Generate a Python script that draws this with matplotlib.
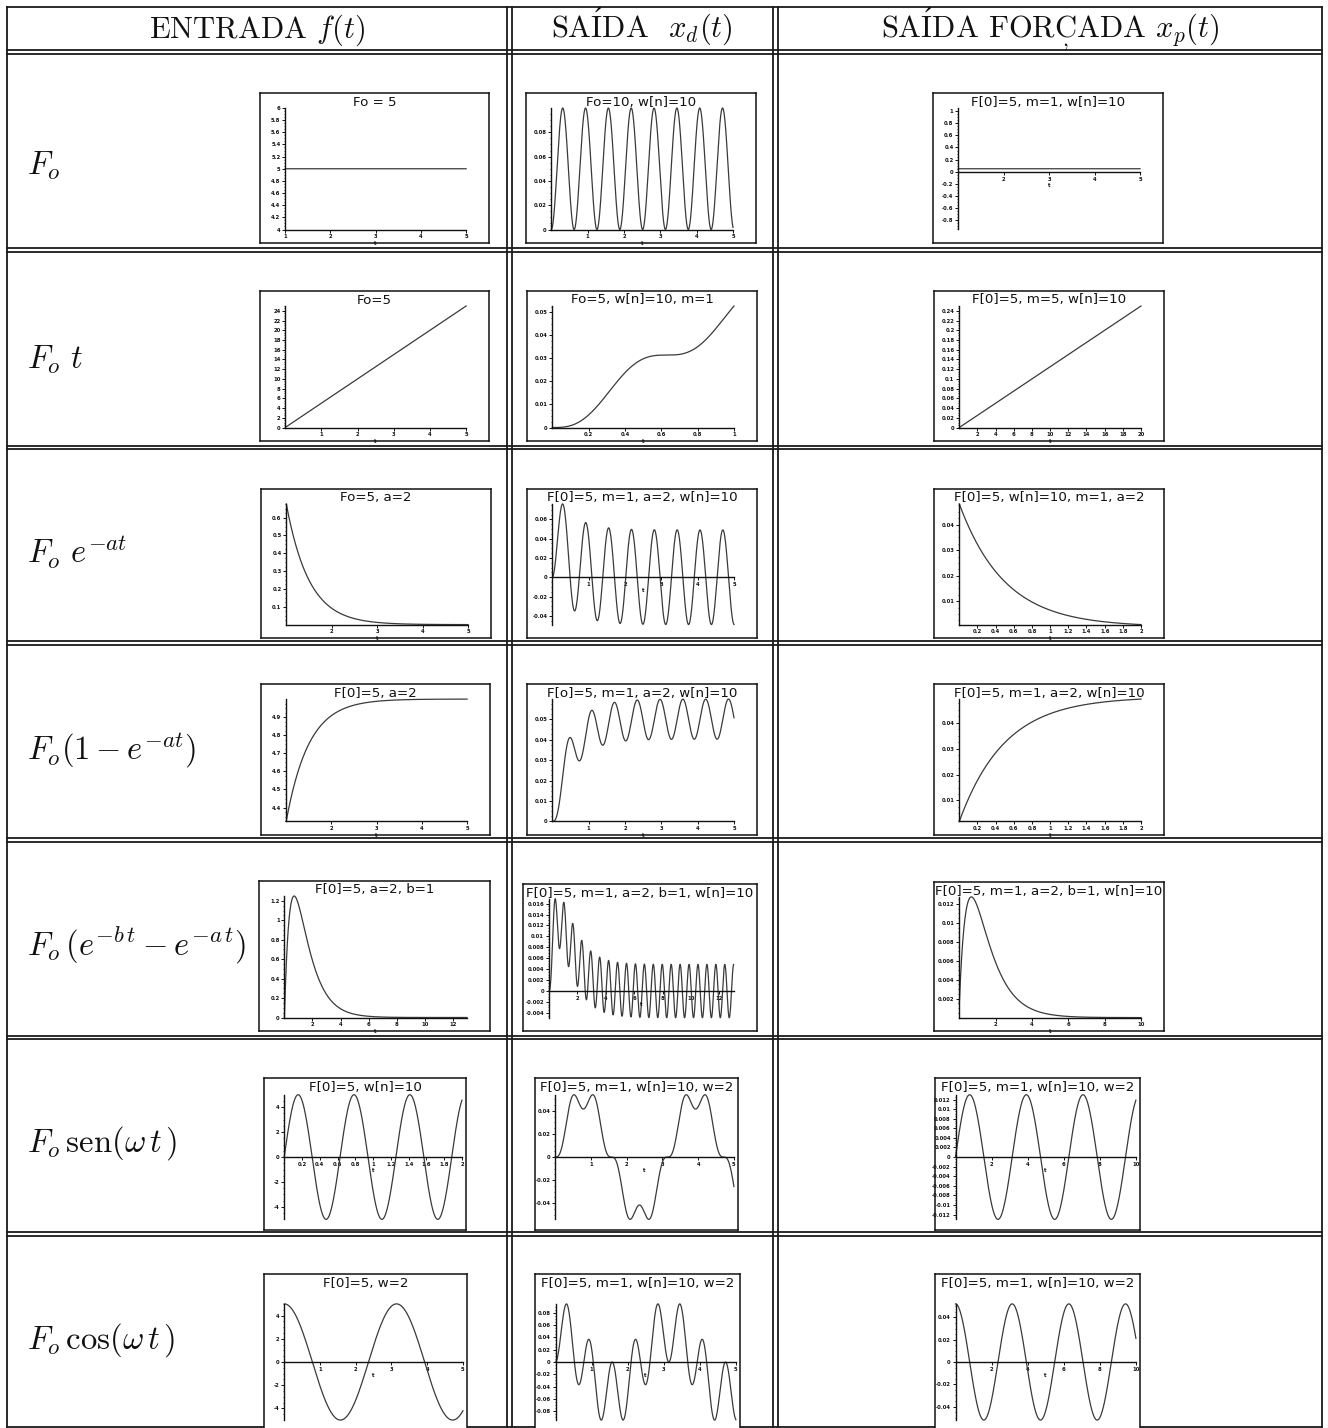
import numpy as np
import matplotlib
matplotlib.use("Agg")
import matplotlib.pyplot as plt
from matplotlib.ticker import FixedLocator

plt.rcParams['mathtext.fontset'] = 'cm'
plt.rcParams['axes.unicode_minus'] = False

W, H = 1328, 1428
fig = plt.figure(figsize=(W / 100, H / 100), dpi=100)
fig.patch.set_facecolor('white')

# ------------------------------------------------------------------ data
# headers in Computer Modern; "Í" via a math accent, "Ç" as C with a cedilla below
header_labels = [r"ENTRADA $f(t)$", r"SA$\acute{\mathrm{I}}$DA  $x_d(t)$",
                 r"SA$\acute{\mathrm{I}}$DA FOR$\underset{,}{\mathrm{C}}$ADA $x_p(t)$"]
row_labels = [r"$F_o$", r"$F_o\ t$", r"$F_o\ e^{-at}$", r"$F_o(1-e^{-at})$",
              r"$F_o\,(e^{-b\,t}-e^{-a\,t})$", r"$F_o\,\mathrm{sen}(\omega\,t\,)$",
              r"$F_o\,\cos(\omega\,t\,)$"]

# system / input parameters (as given in the panel titles)
F0 = 5.0
m = 1.0
wn = 10.0
a = 2.0
b = 1.0
w = 2.0
ramp_xp_end = 0.25      # forced response of the ramp at t = 20
sin_xp_amp = 0.013      # amplitude of the forced response to the sine input

titles_in = ["Fo = 5", "Fo=5", "Fo=5, a=2", "F[0]=5, a=2", "F[0]=5, a=2, b=1",
             "F[0]=5, w[n]=10", "F[0]=5, w=2"]
titles_xd = ["Fo=10, w[n]=10", "Fo=5, w[n]=10, m=1", "F[0]=5, m=1, a=2, w[n]=10",
             "F[o]=5, m=1, a=2, w[n]=10", "F[0]=5, m=1, a=2, b=1, w[n]=10",
             "F[0]=5, m=1, w[n]=10, w=2", "F[0]=5, m=1, w[n]=10, w=2"]
titles_xp = ["F[0]=5, m=1, w[n]=10", "F[0]=5, m=5, w[n]=10",
             "F[0]=5, w[n]=10, m=1, a=2", "F[0]=5, m=1, a=2, w[n]=10",
             "F[0]=5, m=1, a=2, b=1, w[n]=10", "F[0]=5, m=1, w[n]=10, w=2",
             "F[0]=5, m=1, w[n]=10, w=2"]

# time ranges of each panel
t_in = [(1, 5), (0, 5), (1, 5), (1, 5), (0, 13), (0, 2), (0, 5)]
t_xd = [(0, 5), (0, 1), (0, 5), (0, 5), (0, 13), (0, 5), (0, 5)]
t_xp = [(1, 5), (0, 20), (0, 2), (0, 2), (0, 10), (0, 10), (0, 10)]

# tick values
xt_in = [[1, 2, 3, 4, 5], [1, 2, 3, 4, 5], [2, 3, 4, 5], [2, 3, 4, 5],
         [2, 4, 6, 8, 10, 12], [0.2, 0.4, 0.6, 0.8, 1, 1.2, 1.4, 1.6, 1.8, 2],
         [1, 2, 3, 4, 5]]
yt_in = [[4, 4.2, 4.4, 4.6, 4.8, 5, 5.2, 5.4, 5.6, 5.8, 6],
         [0, 2, 4, 6, 8, 10, 12, 14, 16, 18, 20, 22, 24],
         [0, 0.1, 0.2, 0.3, 0.4, 0.5, 0.6],
         [4.4, 4.5, 4.6, 4.7, 4.8, 4.9, 5],
         [0, 0.2, 0.4, 0.6, 0.8, 1, 1.2],
         [-4, -2, 0, 2, 4],
         [-4, -2, 0, 2, 4]]
xt_xd = [[1, 2, 3, 4, 5], [0.2, 0.4, 0.6, 0.8, 1], [1, 2, 3, 4, 5], [1, 2, 3, 4, 5],
         [2, 4, 6, 8, 10, 12], [1, 2, 3, 4, 5], [1, 2, 3, 4, 5]]
yt_xd = [[0, 0.02, 0.04, 0.06, 0.08, 0.1],
         [0, 0.01, 0.02, 0.03, 0.04, 0.05],
         [-0.04, -0.02, 0, 0.02, 0.04, 0.06],
         [0, 0.01, 0.02, 0.03, 0.04, 0.05, 0.06],
         [-0.004, -0.002, 0, 0.002, 0.004, 0.006, 0.008, 0.01, 0.012, 0.014, 0.016],
         [-0.04, -0.02, 0, 0.02, 0.04],
         [-0.08, -0.06, -0.04, -0.02, 0, 0.02, 0.04, 0.06, 0.08]]
xt_xp = [[2, 3, 4, 5], [2, 4, 6, 8, 10, 12, 14, 16, 18, 20],
         [0.2, 0.4, 0.6, 0.8, 1, 1.2, 1.4, 1.6, 1.8, 2],
         [0.2, 0.4, 0.6, 0.8, 1, 1.2, 1.4, 1.6, 1.8, 2],
         [2, 4, 6, 8, 10], [2, 4, 6, 8, 10], [2, 4, 6, 8, 10]]
yt_xp = [[-0.8, -0.6, -0.4, -0.2, 0, 0.2, 0.4, 0.6, 0.8, 1],
         [0, 0.02, 0.04, 0.06, 0.08, 0.1, 0.12, 0.14, 0.16, 0.18, 0.2, 0.22, 0.24],
         [0.01, 0.02, 0.03, 0.04],
         [0, 0.01, 0.02, 0.03, 0.04, 0.05],
         [0, 0.002, 0.004, 0.006, 0.008, 0.01, 0.012],
         [-0.012, -0.01, -0.008, -0.006, -0.004, -0.002, 0, 0.002, 0.004,
          0.006, 0.008, 0.01, 0.012],
         [-0.04, -0.02, 0, 0.02, 0.04]]


# ------------------------------------------------------------------ responses
k = m * wn ** 2


def exp_gain(c):
    return F0 / (m * (c ** 2 + wn ** 2))


def xd_exp(t, c):
    return exp_gain(c) * (np.exp(-c * t) - np.cos(wn * t) + (c / wn) * np.sin(wn * t))


harm_gain = F0 / (m * (wn ** 2 - w ** 2))

f_in = [
    lambda t: np.full_like(t, F0),
    lambda t: F0 * t,
    lambda t: F0 * np.exp(-a * t),
    lambda t: F0 * (1 - np.exp(-a * t)),
    lambda t: F0 * (np.exp(-b * t) - np.exp(-a * t)),
    lambda t: F0 * np.sin(wn * t),
    lambda t: F0 * np.cos(w * t),
]
f_xd = [
    lambda t: F0 / k * (1 - np.cos(wn * t)),
    lambda t: F0 / k * (t - np.sin(wn * t) / wn),
    lambda t: xd_exp(t, a),
    lambda t: F0 / k * (1 - np.cos(wn * t)) - xd_exp(t, a),
    lambda t: xd_exp(t, b) - xd_exp(t, a),
    lambda t: harm_gain * (np.sin(w * t) - (w / wn) * np.sin(wn * t)),
    lambda t: harm_gain * (np.cos(w * t) - np.cos(wn * t)),
]
f_xp = [
    lambda t: np.full_like(t, F0 / k),
    lambda t: ramp_xp_end * t / 20.0,
    lambda t: exp_gain(a) * np.exp(-a * t),
    lambda t: F0 / k - exp_gain(a) * np.exp(-a * t),
    lambda t: exp_gain(b) * np.exp(-b * t) - exp_gain(a) * np.exp(-a * t),
    lambda t: sin_xp_amp * np.sin(w * t),
    lambda t: harm_gain * np.cos(w * t),
]

# ------------------------------------------------------------------ table
bg = fig.add_axes([0, 0, 1, 1])
bg.set_xlim(0, W)
bg.set_ylim(H, 0)
bg.axis('off')

line_kw = dict(color='#1a1a1a', lw=1.3)
h_rules = [7, 50, 54, 248, 252, 446, 449, 641, 645, 838, 842, 1036, 1039, 1232, 1236, 1427]
v_rules = [7, 507, 512, 773, 778, 1322]
for yy in h_rules:
    bg.plot([7, 1322], [yy, yy], **line_kw)
for xx in v_rules:
    bg.plot([xx, xx], [7, 1428], **line_kw)

head_x = [257, 642, 1050]
for hx, lab in zip(head_x, header_labels):
    bg.text(hx, 38, lab, ha='center', va='baseline', fontsize=22,
            family='cmr10', color='#111')

row_y = [166, 360, 552, 750, 945, 1143, 1340]
for ry, lab in zip(row_y, row_labels):
    bg.text(27, ry, lab, ha='left', va='center', fontsize=23.5, color='#111')

# frame rectangles (pixels) for each column of each row
frames = [
    [(260, 93, 489, 243), (526, 93, 756, 243), (933, 93, 1163, 243)],
    [(260, 291, 489, 441), (527, 291, 757, 441), (934, 291, 1164, 441)],
    [(261, 489, 491, 638), (527, 489, 757, 638), (934, 489, 1164, 638)],
    [(261, 684, 490, 835), (527, 684, 757, 835), (934, 684, 1164, 835)],
    [(259, 881, 490, 1031), (523, 884, 757, 1031), (934, 882, 1164, 1031)],
    [(264, 1078, 466, 1230), (535, 1078, 738, 1230), (935, 1078, 1140, 1230)],
    [(264, 1274, 467, 1440), (535, 1274, 740, 1440), (935, 1274, 1140, 1440)],
]
inner_wide = (0.11, 0.09, 0.90, 0.90)
inner_narrow = (0.10, 0.07, 0.98, 0.89)
inner_last = (0.10, 0.12, 0.98, 0.82)


def fmt(v):
    s = ('%.4f' % v).rstrip('0').rstrip('.')
    return '0' if s in ('-0', '') else s


def mini_panel(frame, inner, title, trange, fun, xt, yt):
    x0, y0, x1, y1 = frame
    fw, fh = x1 - x0, y1 - y0
    fax = fig.add_axes([x0 / W, 1 - y1 / H, fw / W, fh / H])
    fax.set_xticks([])
    fax.set_yticks([])
    for s in fax.spines.values():
        s.set_linewidth(1.1)
        s.set_color('#111')
    fax.text(0.5, 1 - 2.5 / fh, title, transform=fax.transAxes, ha='center',
             va='top', fontsize=9.6, family='DejaVu Sans', color='#111')

    l, bt, r, tp = inner
    iax = fig.add_axes([(x0 + l * fw) / W, 1 - (y1 - bt * fh) / H,
                        (r - l) * fw / W, (tp - bt) * fh / H])
    iax.patch.set_alpha(0)
    t0, t1 = trange
    t = np.linspace(t0, t1, 2000)
    y = fun(t)
    ymin, ymax = float(y.min()), float(y.max())
    if ymax - ymin < 1e-12:
        ymin, ymax = ymin - 1.0, ymax + 1.0
    iax.plot(t, y, color='#3a3a3a', lw=0.9, clip_on=False)
    iax.set_xlim(t0, t1)
    yaxis_at = 0.0 if ymin < 0 < ymax else ymin
    for side in ('top', 'right'):
        iax.spines[side].set_visible(False)
    iax.spines['left'].set_position(('data', t0))
    iax.spines['bottom'].set_position(('data', yaxis_at))
    for side in ('left', 'bottom'):
        iax.spines[side].set_linewidth(1.0)
        iax.spines[side].set_color('#111')
    tol = 0.02 * (ymax - ymin)
    shown = [v for v in yt if ymin - tol <= v <= ymax + tol]
    iax.yaxis.set_major_locator(FixedLocator(shown))
    iax.xaxis.set_major_locator(FixedLocator(xt))
    iax.set_xticklabels([fmt(v) for v in xt])
    iax.set_yticklabels([fmt(v) for v in shown])
    iax.set_ylim(ymin, ymax)
    yt_arr = np.array(yt)
    if len(yt_arr) > 1:
        step = np.min(np.diff(yt_arr)) / 4.0
        minor = np.arange(yt_arr[0] - 4 * step, ymax + step, step)
        iax.yaxis.set_minor_locator(FixedLocator([v for v in minor if ymin <= v <= ymax]))
    iax.tick_params(axis='both', which='major', length=2.2, width=0.7, pad=1.2,
                    labelsize=3.8, colors='#111', direction='out')
    iax.tick_params(axis='y', which='minor', length=1.0, width=0.5, direction='out', color='#111')
    for lab in iax.get_xticklabels() + iax.get_yticklabels():
        lab.set_fontweight('bold')
    iax.annotate('t', xy=(0.5 * (t0 + t1), yaxis_at), xycoords='data',
                 xytext=(0, -8), textcoords='offset points', ha='center',
                 va='top', fontsize=3.8, fontweight='bold', color='#111')


titles = [titles_in, titles_xd, titles_xp]
tranges = [t_in, t_xd, t_xp]
funs = [f_in, f_xd, f_xp]
xts = [xt_in, xt_xd, xt_xp]
yts = [yt_in, yt_xd, yt_xp]

for row in range(7):
    inner = inner_wide if row < 5 else (inner_narrow if row == 5 else inner_last)
    for col in range(3):
        mini_panel(frames[row][col], inner, titles[col][row], tranges[col][row],
                   funs[col][row], xts[col][row], yts[col][row])

fig.savefig('out.png', dpi=100, facecolor='white')
